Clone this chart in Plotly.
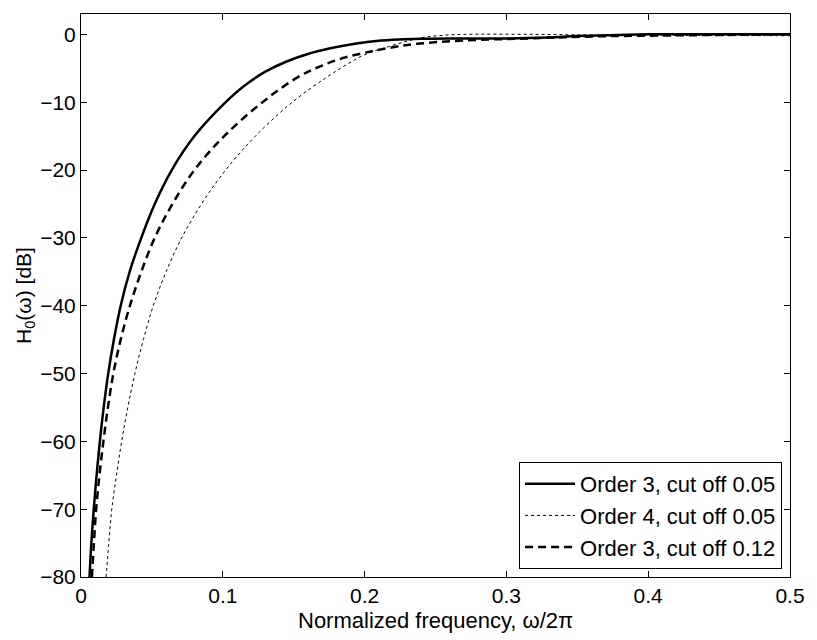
import plotly.graph_objects as go

# Order 3, cut off 0.05 (solid)
f_o3_005 = [0.0060, 0.0073, 0.0090, 0.0110, 0.0133, 0.0160, 0.0192, 0.0232, 0.0280, 0.0343,
            0.0425, 0.0520, 0.0640, 0.0800, 0.1020, 0.1150, 0.1300, 0.1450, 0.1600, 0.1750,
            0.1900, 0.2050, 0.2200, 0.2400, 0.2600, 0.3000, 0.3300, 0.3500, 0.3800, 0.4000,
            0.4500, 0.5000]
db_o3_005 = [-80.0, -75.0, -70.0, -65.0, -60.0, -55.0, -50.0, -45.0, -40.0, -35.0,
             -30.0, -25.0, -20.0, -15.0, -10.0, -7.6, -5.5, -4.0, -2.9, -2.1,
             -1.5, -1.05, -0.8, -0.65, -0.6, -0.6, -0.45, -0.25, -0.08, 0.0,
             0.0, 0.0]

# Order 4, cut off 0.05 (dotted)
f_o4_005 = [0.0177, 0.0196, 0.0217, 0.0250, 0.0287, 0.0330, 0.0380, 0.0440, 0.0510, 0.0600,
            0.0710, 0.0850, 0.1020, 0.1230, 0.1490, 0.1720, 0.1870, 0.2000, 0.2170, 0.2300,
            0.2420, 0.2550, 0.2700, 0.3200, 0.3600, 0.4200, 0.5000]
db_o4_005 = [-80.0, -75.0, -70.0, -65.0, -60.0, -55.0, -50.0, -45.0, -40.0, -35.0,
             -30.0, -25.0, -20.0, -15.0, -10.0, -6.5, -4.5, -3.0, -1.8, -1.0,
             -0.45, -0.15, 0.0, 0.0, -0.1, -0.15, -0.2]

# Order 3, cut off 0.12 (dashed)
f_o3_012 = [0.0077, 0.0091, 0.0107, 0.0130, 0.0158, 0.0190, 0.0228, 0.0280, 0.0345, 0.0425,
            0.0520, 0.0645, 0.0800, 0.1010, 0.1280, 0.1530, 0.1700, 0.1880, 0.2050, 0.2200,
            0.2370, 0.2700, 0.3160, 0.3630, 0.4200, 0.5000]
db_o3_012 = [-80.0, -75.0, -70.0, -65.0, -60.0, -55.0, -50.0, -45.0, -40.0, -35.0,
             -30.0, -25.0, -20.0, -15.0, -10.0, -6.3, -4.6, -3.3, -2.5, -1.9,
             -1.4, -0.9, -0.6, -0.3, -0.15, 0.0]

x_ticks = [0, 0.1, 0.2, 0.3, 0.4, 0.5]
x_tick_labels = ["0", "0.1", "0.2", "0.3", "0.4", "0.5"]
y_ticks = [0, -10, -20, -30, -40, -50, -60, -70, -80]
y_tick_labels = ["0", "\u221210", "\u221220", "\u221230", "\u221240", "\u221250", "\u221260", "\u221270", "\u221280"]

FONT = "Liberation Sans, Arial, Helvetica, sans-serif"

fig = go.Figure()
fig.add_trace(go.Scatter(x=f_o3_005, y=db_o3_005, mode="lines", name="Order 3, cut off 0.05",
                         line=dict(color="black", width=2.5, shape="spline", smoothing=1.0)))
fig.add_trace(go.Scatter(x=f_o4_005, y=db_o4_005, mode="lines", name="Order 4, cut off 0.05",
                         line=dict(color="black", width=1, dash="dot", shape="spline", smoothing=1.0)))
fig.add_trace(go.Scatter(x=f_o3_012, y=db_o3_012, mode="lines", name="Order 3, cut off 0.12",
                         line=dict(color="black", width=2.5, dash="8px,5px", shape="spline", smoothing=1.0)))

axis_common = dict(showgrid=False, zeroline=False, showline=True, linecolor="black", linewidth=1,
                   mirror="ticks", ticks="inside", ticklen=6, tickcolor="black", tickwidth=1,
                   tickfont=dict(family=FONT, size=21, color="black"))

fig.update_layout(
    width=817, height=640,
    margin=dict(l=81, r=21, t=14, b=63),
    plot_bgcolor="white", paper_bgcolor="white",
    font=dict(family=FONT, size=21, color="black"),
    xaxis=dict(range=[0, 0.5], tickvals=x_ticks, ticktext=x_tick_labels, **axis_common),
    yaxis=dict(range=[-80, 3], tickvals=y_ticks, ticktext=y_tick_labels, **axis_common),
    legend=dict(x=0.9888, y=0.0142, xanchor="right", yanchor="bottom",
                bgcolor="white", bordercolor="black", borderwidth=1,
                font=dict(family=FONT, size=22, color="black"),
                tracegroupgap=0, itemwidth=50),
    showlegend=True,
    annotations=[
        dict(text="Normalized frequency, \u03c9/2\u03c0", xref="paper", yref="paper",
             x=0.5, y=-0.0764, xanchor="center", yanchor="middle", showarrow=False,
             font=dict(family=FONT, size=22, color="black")),
        dict(text="H<sub>0</sub>(\u03c9) [dB]", xref="paper", yref="paper",
             x=-0.0797, y=0.5, xanchor="center", yanchor="middle", showarrow=False, textangle=-90,
             font=dict(family=FONT, size=21, color="black")),
    ],
)

fig.write_html("out.html")
